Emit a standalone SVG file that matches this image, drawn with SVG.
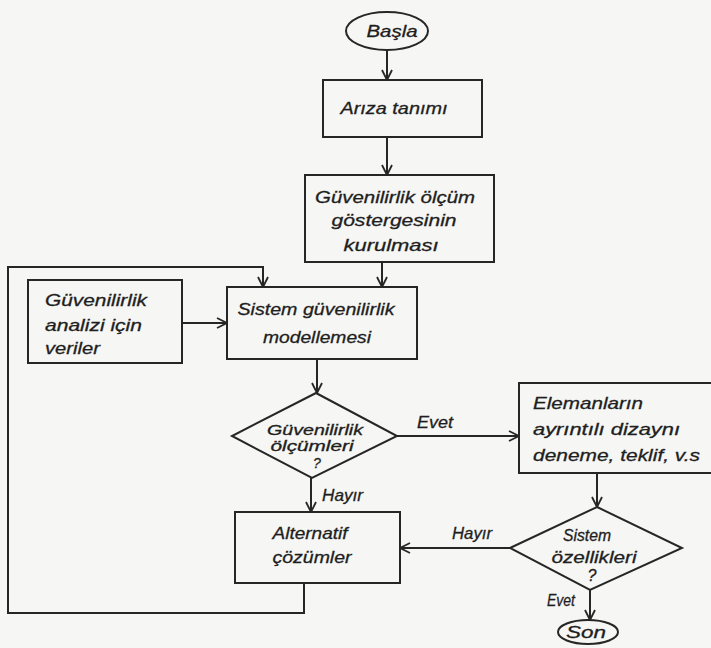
<svg xmlns="http://www.w3.org/2000/svg" width="711" height="648" viewBox="0 0 711 648">
<style>
.shape{fill:none;stroke:#262626;stroke-width:2}
.line{fill:none;stroke:#262626;stroke-width:2}
text{font-family:"Liberation Sans",Arial,sans-serif;font-style:italic;font-size:17px;fill:#1e1e1e;stroke:#1e1e1e;stroke-width:0.3}
.c{text-anchor:middle}
.s{font-size:14px}
.m{font-size:16px}
</style>
<defs>
<marker id="arr" viewBox="0 0 12 12" refX="11" refY="6" markerWidth="12" markerHeight="12" markerUnits="userSpaceOnUse" orient="auto">
<path d="M1,1 L11,6 L1,11" fill="none" stroke="#262626" stroke-width="1.8"/>
</marker>
</defs>
<rect width="711" height="648" fill="#f6f6f4"/>
<g id="connectors">
<line class="line" x1="387" y1="50" x2="387" y2="80" marker-end="url(#arr)"/>
<line class="line" x1="387" y1="137" x2="387" y2="175" marker-end="url(#arr)"/>
<line class="line" x1="382" y1="262" x2="382" y2="287" marker-end="url(#arr)"/>
<line class="line" x1="182" y1="323" x2="227" y2="323" marker-end="url(#arr)"/>
<line class="line" x1="317" y1="359" x2="317" y2="393" marker-end="url(#arr)"/>
<line class="line" x1="397" y1="436" x2="519" y2="436" marker-end="url(#arr)"/>
<line class="line" x1="311" y1="478" x2="311" y2="512" marker-end="url(#arr)"/>
<line class="line" x1="597" y1="473" x2="597" y2="507" marker-end="url(#arr)"/>
<line class="line" x1="510" y1="548" x2="400" y2="548" marker-end="url(#arr)"/>
<line class="line" x1="590" y1="590" x2="590" y2="620" marker-end="url(#arr)"/>
<polyline class="line" points="304,583 304,613 8,613 8,267 263,267 263,287" marker-end="url(#arr)"/>
<text x="417" y="428" textLength="36" lengthAdjust="spacingAndGlyphs">Evet</text>
<text x="322" y="501" textLength="41" lengthAdjust="spacingAndGlyphs">Hayır</text>
<text x="452" y="539" textLength="40" lengthAdjust="spacingAndGlyphs">Hayır</text>
<text x="547" y="606" textLength="28" lengthAdjust="spacingAndGlyphs">Evet</text>
</g>
<g id="basla">
<ellipse class="shape" cx="387" cy="31" rx="41" ry="19"/>
<text class="c" x="392" y="37" textLength="51" lengthAdjust="spacingAndGlyphs">Başla</text>
</g>
<g id="ariza">
<rect class="shape" x="323" y="80" width="159" height="57"/>
<text class="c" x="394" y="114" textLength="107" lengthAdjust="spacingAndGlyphs">Arıza tanımı</text>
</g>
<g id="gosterge">
<rect class="shape" x="305" y="175" width="189" height="87"/>
<text class="c" x="395" y="203" textLength="160" lengthAdjust="spacingAndGlyphs">Güvenilirlik ölçüm</text>
<text class="c" x="394" y="226" textLength="125" lengthAdjust="spacingAndGlyphs">göstergesinin</text>
<text class="c" x="391" y="251" textLength="95" lengthAdjust="spacingAndGlyphs">kurulması</text>
</g>
<g id="veriler">
<rect class="shape" x="28" y="280" width="154" height="83"/>
<text x="45" y="306" textLength="102" lengthAdjust="spacingAndGlyphs">Güvenilirlik</text>
<text x="45" y="331" textLength="97" lengthAdjust="spacingAndGlyphs">analizi için</text>
<text x="45" y="354" textLength="55" lengthAdjust="spacingAndGlyphs">veriler</text>
</g>
<g id="modelleme">
<rect class="shape" x="227" y="287" width="190" height="72"/>
<text class="c" x="316" y="315" textLength="157" lengthAdjust="spacingAndGlyphs">Sistem güvenilirlik</text>
<text class="c" x="317" y="343" textLength="108" lengthAdjust="spacingAndGlyphs">modellemesi</text>
</g>
<g id="olcumler">
<polygon class="shape" points="316,393 397,436 312,478 232,436"/>
<text class="c s" x="315" y="435" textLength="96" lengthAdjust="spacingAndGlyphs">Güvenilirlik</text>
<text class="c s" x="312" y="451" textLength="83" lengthAdjust="spacingAndGlyphs">ölçümleri</text>
<text class="c s" x="317" y="468">?</text>
</g>
<g id="elemanlar">
<rect class="shape" x="519" y="383" width="200" height="90"/>
<text x="533" y="409" textLength="110" lengthAdjust="spacingAndGlyphs">Elemanların</text>
<text x="533" y="435" textLength="147" lengthAdjust="spacingAndGlyphs">ayrıntılı dizaynı</text>
<text x="533" y="461" textLength="167" lengthAdjust="spacingAndGlyphs">deneme, teklif, v.s</text>
</g>
<g id="ozellikler">
<polygon class="shape" points="597,507 682,548 590,590 510,548"/>
<text class="c m" x="587" y="541" textLength="48" lengthAdjust="spacingAndGlyphs">Sistem</text>
<text class="c m" x="594" y="563" textLength="85" lengthAdjust="spacingAndGlyphs">özellikleri</text>
<text class="c m" x="592" y="581">?</text>
</g>
<g id="alternatif">
<rect class="shape" x="235" y="512" width="165" height="71"/>
<text class="c" x="310" y="539" textLength="75" lengthAdjust="spacingAndGlyphs">Alternatif</text>
<text class="c" x="312" y="563" textLength="79" lengthAdjust="spacingAndGlyphs">çözümler</text>
</g>
<g id="son">
<ellipse class="shape" cx="588" cy="632" rx="30" ry="12"/>
<text class="c" x="586" y="638" textLength="40" lengthAdjust="spacingAndGlyphs">Son</text>
</g>
</svg>
